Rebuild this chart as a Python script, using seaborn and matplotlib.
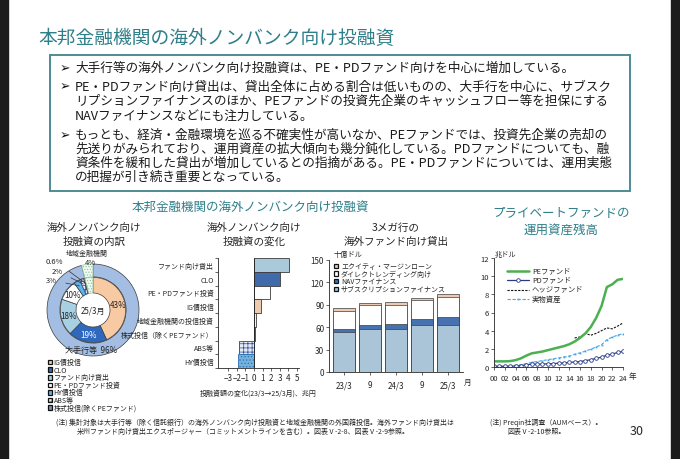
import numpy as np
import pandas as pd
import matplotlib
matplotlib.use("Agg")
import matplotlib.pyplot as plt
import seaborn as sns
from matplotlib.patches import Rectangle
from matplotlib.lines import Line2D

sns.set_theme(style="ticks")
plt.rcParams["font.family"] = ["Noto Sans CJK JP", "DejaVu Sans"]
plt.rcParams["hatch.linewidth"] = 0.5
plt.rcParams["axes.linewidth"] = 0.6

# ---------------- data ----------------
outer_labels = ["大手行等", "地域金融機関"]
outer_values = [96, 4]
inner_labels = ["IG債投信", "CLO", "ファンド向け貸出", "PE・PDファンド投資",
                "HY債投信", "ABS等", "株式投信(除くPEファンド)", "地域金融機関"]
inner_values = [43, 19, 18, 10, 3, 2, 0.6, 4]
inner_texts = ["43%", "19%", "18%", "10%", "3%", "2%", "0.6%", "4%"]

change_labels = ["ファンド向け貸出", "CLO", "PE・PDファンド投資", "IG債投信",
                 "地域金融機関の投信投資", "株式投信（除くPEファンド）", "ABS等", "HY債投信"]
change_values = [4.05, 3.0, 1.82, 0.83, 0.27, 0.1, -1.8, -1.9]

mega_periods = ["23/3", "23/9", "24/3", "24/9", "25/3"]
mega_ticklabels = ["23/3", "9", "24/3", "9", "25/3"]
subscription = [53.7, 57.3, 57.3, 62.7, 63.6]
nav_finance = [4.5, 5.8, 7.2, 8.5, 10.7]
direct_lending = [24.0, 26.0, 24.6, 25.5, 26.5]
equity_margin = [3.5, 3.6, 4.0, 2.7, 3.1]

years = list(range(2000, 2025))
pe_fund = [0.62, 0.62, 0.62, 0.65, 0.75, 0.95, 1.25, 1.5, 1.6, 1.7, 1.85, 2.0, 2.15,
           2.3, 2.5, 2.8, 3.2, 3.7, 4.4, 5.4, 6.7, 8.8, 9.1, 9.6, 9.7]
pd_fund = [0.07, 0.07, 0.08, 0.09, 0.1, 0.15, 0.25, 0.3, 0.3, 0.32, 0.35, 0.37, 0.42,
           0.45, 0.5, 0.55, 0.6, 0.7, 0.8, 0.95, 1.08, 1.3, 1.42, 1.6, 1.72]
hedge_years = list(range(2015, 2025))
hedge_fund = [3.2, 3.3, 3.7, 3.5, 3.7, 4.0, 4.3, 4.2, 4.5, 4.85]
real_assets = [0.08, 0.1, 0.12, 0.15, 0.18, 0.27, 0.37, 0.5, 0.6, 0.7, 0.8, 0.9, 1.0,
               1.1, 1.2, 1.4, 1.55, 1.75, 1.95, 2.2, 2.46, 3.0, 3.3, 3.5, 3.67]
line_ticks = list(range(2000, 2025, 2))
line_ticklabels = ["00", "02", "04", "06", "08", "10", "12", "14", "16", "18", "20", "22", "24"]
line_names = ["PEファンド", "PDファンド", "ヘッジファンド", "実物資産"]

# ---------------- figure ----------------
W, H = 680, 460
fig = plt.figure(figsize=(W / 100, H / 100), dpi=100)
fig.patch.set_facecolor("white")


def X(x):
    return x / W


def Y(y):
    return 1 - y / H


def add_ax(l, t, r, b):
    return fig.add_axes([l / W, 1 - b / H, (r - l) / W, (b - t) / H])


def swatch(x, y, size, face, hatch=None, edge="#111", lw=0.9):
    fig.patches.append(Rectangle((X(x), Y(y + size / 2)), size / W, size / H,
                                 transform=fig.transFigure, facecolor=face,
                                 edgecolor=edge, linewidth=lw, hatch=hatch, zorder=5))


TEAL = "#2e7f89"
EDGE = "#3c3c3c"

# dark side strips
fig.patches.append(Rectangle((0, 0), X(8), 1, transform=fig.transFigure,
                             color="#1c1c1c", zorder=0))
fig.patches.append(Rectangle((X(671), 0), 1 - X(671), 1, transform=fig.transFigure,
                             color="#1c1c1c", zorder=0))

# title
fig.text(X(38), Y(38), "本邦金融機関の海外ノンバンク向け投融資", color=TEAL,
         fontsize=13.5, ha="left", va="center")

# text box
fig.patches.append(Rectangle((X(50), Y(192)), X(630) - X(50), Y(56) - Y(192),
                             transform=fig.transFigure, facecolor="white",
                             edgecolor="#4d8b94", linewidth=1.4, zorder=1))
lines = [
    (68.5, True, "大手行等の海外ノンバンク向け投融資は、PE・PDファンド向けを中心に増加している。"),
    (87, True, "PE・PDファンド向け貸出は、貸出全体に占める割合は低いものの、大手行を中心に、サブスク"),
    (101.5, False, "リプションファイナンスのほか、PEファンドの投資先企業のキャッシュフロー等を担保にする"),
    (116, False, "NAVファイナンスなどにも注力している。"),
    (135.5, True, "もっとも、経済・金融環境を巡る不確実性が高いなか、PEファンドでは、投資先企業の売却の"),
    (149.5, False, "先送りがみられており、運用資産の拡大傾向も幾分鈍化している。PDファンドについても、融"),
    (163.5, False, "資条件を緩和した貸出が増加しているとの指摘がある。PE・PDファンドについては、運用実態"),
    (177.5, False, "の把握が引き続き重要となっている。"),
]
for yy, bullet, txt in lines:
    if bullet:
        fig.text(X(60), Y(yy), "➢", fontsize=9, ha="left", va="center",
                 family=["DejaVu Sans"], zorder=2, color="#111")
    fig.text(X(75), Y(yy), txt, fontsize=9.1, ha="left", va="center", color="#1a1a1a", zorder=2)

# section titles
fig.text(X(250), Y(207), "本邦金融機関の海外ノンバンク向け投融資", color=TEAL,
         fontsize=9, ha="center", va="center")
fig.text(X(561), Y(214), "プライベートファンドの", color=TEAL, fontsize=9, ha="center", va="center")
fig.text(X(561), Y(230), "運用資産残高", color=TEAL, fontsize=9, ha="center", va="center")
for cx, l1, l2 in [(94, "海外ノンバンク向け", "投融資の内訳"),
                   (254, "海外ノンバンク向け", "投融資の変化"),
                   (396, "3メガ行の", "海外ファンド向け貸出")]:
    fig.text(X(cx), Y(228), l1, fontsize=7.6, ha="center", va="center")
    fig.text(X(cx), Y(242), l2, fontsize=7.6, ha="center", va="center")

# ---------------- donut ----------------
R_PX = 46
cx, cy = 93, 311
ax_d = add_ax(cx - 70, cy - 70, cx + 70, cy + 70)
lim = 70 / R_PX
outer_colors = ["#a3bde3", "#f1f8f2"]
wo, _ = ax_d.pie(outer_values, radius=1.0, startangle=90, counterclock=False,
                 colors=outer_colors,
                 wedgeprops=dict(width=0.28, edgecolor=EDGE, linewidth=0.5))
wo[1].set_hatch("......")
wo[1].set_edgecolor("#8cc49b")

inner_colors = ["#f7caa3", "#2f68bd", "#a7d0e2", "#ffffff", "#5fb2ea", "#e3ebf8",
                "#7c8fb8", "#f1f8f2"]
inner_hatches = [None, None, None, None, None, "++++", None, "......"]
wi, _ = ax_d.pie(inner_values, radius=0.71, startangle=90, counterclock=False,
                 colors=inner_colors,
                 wedgeprops=dict(width=0.34, edgecolor=EDGE, linewidth=0.5))
for w, h in zip(wi, inner_hatches):
    if h:
        w.set_hatch(h)
wi[5].set_edgecolor("#2a4a9a")
wi[7].set_edgecolor("#8cc49b")
ax_d.set_xlim(-lim, lim)
ax_d.set_ylim(-lim, lim)
ax_d.set_aspect("equal")
ax_d.axis("off")


def mid(w, r):
    a = np.deg2rad((w.theta1 + w.theta2) / 2)
    return r * np.cos(a), r * np.sin(a)


for i in range(4):
    px, py = mid(wi[i], 0.55)
    ax_d.text(px, py, inner_texts[i], fontsize=5.8, ha="center", va="center",
              color="white" if i == 1 else "#222")
ax_d.text(0, 0, "25/3月", fontsize=5.8, ha="center", va="center")
ax_d.text(-0.05, -0.86, "大手行等  96%", fontsize=5.8, ha="center", va="center")
ax_d.text(-0.13, 1.24, "地域金融機関", fontsize=5, ha="center", va="center")
ax_d.text(-0.06, 1.05, "4%", fontsize=5.5, ha="center", va="center")
for idx, (tx, ty) in zip([6, 5, 4], [(-0.83, 1.07), (-0.78, 0.85), (-0.9, 0.65)]):
    px, py = mid(wi[idx], 0.6)
    ax_d.annotate(inner_texts[idx], xy=(px, py), xytext=(tx, ty), fontsize=5.5,
                  ha="center", va="center", annotation_clip=False,
                  arrowprops=dict(arrowstyle="-", lw=0.5, color="#333",
                                  shrinkA=4, shrinkB=0))

# donut legend (manual rows)
for i in range(7):
    yy = 363 + i * 7.6
    swatch(47.5, yy, 4.6, inner_colors[i], inner_hatches[i])
    fig.text(X(53.5), Y(yy), inner_labels[i], fontsize=5, ha="left", va="center")

# ---------------- change bars ----------------
ax_b = add_ax(218, 259, 298.5, 369)
change_colors = ["#a2cbe3", "#2f66bb", "#ffffff", "#f7caa3", "#f2f2f2", "#d0d6e6",
                 "#e3ebf8", "#62b5ee"]
change_hatches = [None, None, None, None, None, None, "++++", "....."]
df_change = pd.DataFrame({"item": change_labels, "value": change_values})
sns.barplot(data=df_change, y="item", x="value", hue="item", order=change_labels,
            hue_order=change_labels, palette=dict(zip(change_labels, change_colors)),
            legend=False, width=1.0, edgecolor=EDGE, linewidth=0.6, orient="h", ax=ax_b)
for p, h in zip(ax_b.patches, change_hatches):
    if h:
        p.set_hatch(h)
        p.set_edgecolor("#2a4a9a" if h == "++++" else "#2a70b5")
ax_b.axvline(0, color="#222", lw=0.6)
ax_b.set_xlim(-4.2, 5.2)
ax_b.set_xticks(range(-3, 6))
ax_b.set_ylim(7.5, -0.5)
ax_b.set_yticks(np.arange(-0.5, 8, 1), minor=True)
ax_b.tick_params(axis="y", which="major", length=0, labelsize=5, pad=3)
ax_b.tick_params(axis="y", which="minor", length=2, width=0.5)
ax_b.tick_params(axis="x", length=2, width=0.5, labelsize=5.8, pad=1.5)
ax_b.set_ylabel("")
ax_b.set_xlabel("投融資額の変化(23/3→25/3月)、兆円", fontsize=5, labelpad=5)
sns.despine(ax=ax_b)

# ---------------- 3 mega banks stacked ----------------
ax_s = add_ax(329, 261, 463, 373)
df_s = pd.DataFrame({"period": mega_periods, "sub": subscription, "nav": nav_finance,
                     "dl": direct_lending, "eq": equity_margin})
df_s["c1"] = df_s["sub"]
df_s["c2"] = df_s["c1"] + df_s["nav"]
df_s["c3"] = df_s["c2"] + df_s["dl"]
df_s["c4"] = df_s["c3"] + df_s["eq"]
stack_names = ["エクイティ・マージンローン", "ダイレクトレンディング向け",
               "NAVファイナンス", "サブスクリプションファイナンス"]
stack_cols = ["c4", "c3", "c2", "c1"]
stack_colors = ["#f6caa8", "#ffffff", "#3570c0", "#a2c7e0"]
for col, colr in zip(stack_cols, stack_colors):
    sns.barplot(data=df_s, x="period", y=col, order=mega_periods, color=colr,
                width=0.88, edgecolor=EDGE, linewidth=0.5, ax=ax_s)
ax_s.set_xlim(-0.58, 4.58)
ax_s.set_ylim(0, 150)
ax_s.set_yticks(range(0, 151, 30))
ax_s.set_xticks(range(5))
ax_s.set_xticklabels(mega_ticklabels)
ax_s.tick_params(length=2, width=0.5, labelsize=5.8, pad=1.5)
ax_s.tick_params(axis="x", pad=4)
ax_s.set_xlabel("")
ax_s.set_ylabel("")
sns.despine(ax=ax_s)
for i, (nm, colr) in enumerate(zip(stack_names, stack_colors)):
    yy = 267 + i * 7.6
    swatch(334, yy, 4.4, colr)
    fig.text(X(341), Y(yy), nm, fontsize=5, ha="left", va="center")
fig.text(X(334), Y(255), "十億ドル", fontsize=5.2, ha="left", va="center")
fig.text(X(468), Y(383), "月", fontsize=5.5, ha="center", va="center")

# ---------------- private fund AUM ----------------
ax_l = add_ax(494, 259, 623, 368)
df_pe = pd.DataFrame({"year": years, "v": pe_fund})
df_pd = pd.DataFrame({"year": years, "v": pd_fund})
df_hf = pd.DataFrame({"year": hedge_years, "v": hedge_fund})
df_ra = pd.DataFrame({"year": years, "v": real_assets})
styles = [
    dict(color="#4caf50", lw=1.8),
    dict(color="#2b3a86", lw=0.9, marker="o", markersize=2.6, markerfacecolor="white",
         markeredgecolor="#2b3a86", markeredgewidth=0.6),
    dict(color="#111111", lw=0.8, linestyle=(0, (2, 1.2))),
    dict(color="#4aa6e6", lw=0.8, linestyle=(0, (3, 1.5)), marker="s", markersize=1.3,
         markeredgewidth=0),
]
sns.lineplot(data=df_ra, x="year", y="v", ax=ax_l, **styles[3])
sns.lineplot(data=df_hf, x="year", y="v", ax=ax_l, **styles[2])
sns.lineplot(data=df_pd, x="year", y="v", ax=ax_l, **styles[1])
sns.lineplot(data=df_pe, x="year", y="v", ax=ax_l, **styles[0])
ax_l.set_xlim(2000, 2024)
ax_l.set_ylim(0, 12)
ax_l.set_yticks(range(0, 13, 2))
ax_l.set_xticks(line_ticks)
ax_l.set_xticklabels(line_ticklabels)
ax_l.tick_params(length=2, width=0.5, labelsize=5.5, pad=1.5)
ax_l.tick_params(axis="x", pad=3)
ax_l.set_xlabel("")
ax_l.set_ylabel("")
sns.despine(ax=ax_l)
for i, (nm, st) in enumerate(zip(line_names, styles)):
    yy = 272 + i * 9.3
    ln = Line2D([X(507), X(518), X(529)], [Y(yy)] * 3, transform=fig.transFigure,
                markevery=[1], **st)
    fig.add_artist(ln)
    fig.text(X(532), Y(yy), nm, fontsize=5.3, ha="left", va="center")
fig.text(X(495), Y(255), "兆ドル", fontsize=5.2, ha="left", va="center")
fig.text(X(632), Y(377), "年", fontsize=5.5, ha="center", va="center")

# ---------------- notes ----------------
fig.text(X(56), Y(423), "(注) 集計対象は大手行等（除く信託銀行）の海外ノンバンク向け投融資と地域金融機関の外国籍投信。海外ファンド向け貸出は",
         fontsize=5, ha="left", va="center")
fig.text(X(77), Y(432), "米州ファンド向け貸出エクスポージャー（コミットメントラインを含む）。図表Ⅴ-2-8、図表Ⅴ-2-9参照。",
         fontsize=5, ha="left", va="center")
fig.text(X(490), Y(423), "(注) Preqin社調査（AUMベース）。", fontsize=5, ha="left", va="center")
fig.text(X(507), Y(432), "図表Ⅴ-2-10参照。", fontsize=5, ha="left", va="center")
fig.text(X(637), Y(432), "30", fontsize=9, ha="center", va="center")

fig.savefig("out.png", dpi=100, facecolor="white")
